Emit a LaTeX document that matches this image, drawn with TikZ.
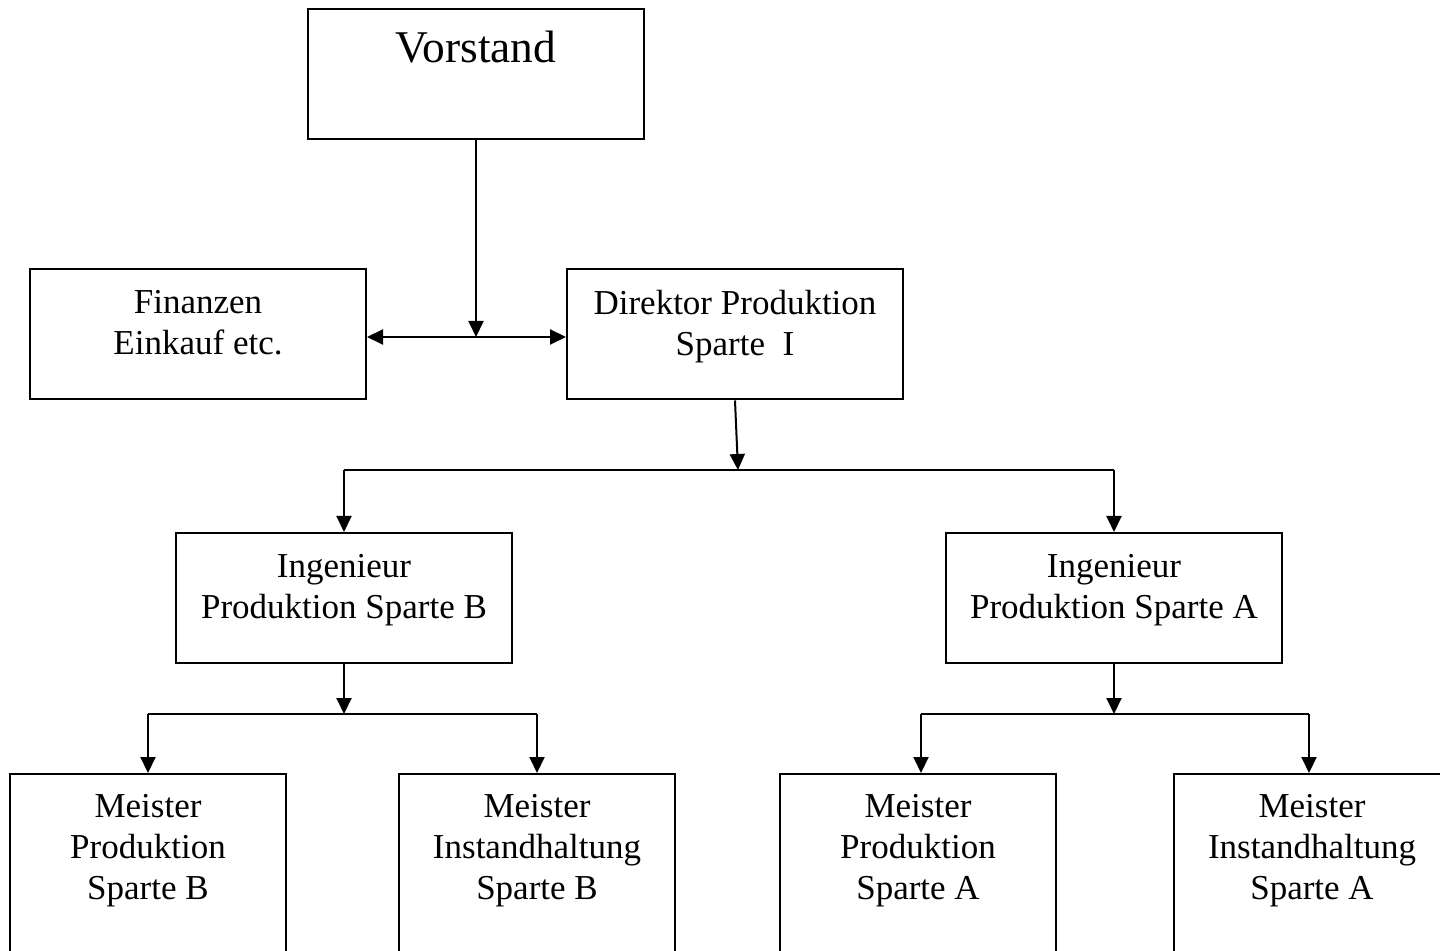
\documentclass[tikz,border=0pt]{standalone}
\usepackage{fontspec}
\setmainfont{Liberation Serif}
\usetikzlibrary{arrows.meta,positioning}
\begin{document}
\begin{tikzpicture}[x=0.5pt,y=-0.5pt,line width=1pt,
    font=\fontsize{17.5}{20.5}\selectfont,
    box/.style={draw,rectangle,inner sep=0pt,minimum width=168pt,minimum height=65pt},
    smallbox/.style={box,minimum width=138pt,minimum height=95pt},
    boxtext/.style={align=center,inner sep=0pt},
    arr/.style={-{Triangle[length=8pt,width=7.5pt]}},
    twoarr/.style={{Triangle[length=8pt,width=7.5pt]}-{Triangle[length=8pt,width=7.5pt]}}]
  \useasboundingbox (0,0) rectangle (1440,951);
  \clip (0,0) rectangle (1440,951);
  \node[box] (vorstand) at (476,74) {};
  \node[box] (fin) at (198,334.5) {};
  \node[box] (dir) at (735,334.5) {};
  \node[box] (ingb) at (344,598) {};
  \node[box] (inga) at (1114,598) {};
  \node[smallbox] (mpb) at (148,869) {};
  \node[smallbox] (mib) at (537,869) {};
  \node[smallbox] (mpa) at (918,869) {};
  \node[smallbox] (mia) at (1312,869) {};
  \node[boxtext,below=11pt of vorstand.north,font=\fontsize{22.7}{27}\selectfont] (vorstandtext) {Vorstand};
  \node[boxtext,below=10.5pt of fin.north] (fintext) {Finanzen\\Einkauf etc.};
  \node[boxtext,below=10.5pt of dir.north] (dirtext) {Direktor Produktion\\Sparte\ \ I};
  \node[boxtext,below=10.5pt of ingb.north] (ingbtext) {Ingenieur\\Produktion Sparte B};
  \node[boxtext,below=10.5pt of inga.north] (ingatext) {Ingenieur\\Produktion Sparte A};
  \node[boxtext,below=10pt of mpb.north] (mpbtext) {Meister\\Produktion\\Sparte B};
  \node[boxtext,below=10pt of mib.north] (mibtext) {Meister\\Instandhaltung\\Sparte B};
  \node[boxtext,below=10pt of mpa.north] (mpatext) {Meister\\Produktion\\Sparte A};
  \node[boxtext,below=10pt of mia.north] (miatext) {Meister\\Instandhaltung\\Sparte A};
  \coordinate (jv) at (476,337);
  \coordinate (jd) at (738,470);
  \coordinate (jb) at (344,714);
  \coordinate (ja) at (1114,714);
  \draw[arr] (vorstand) -- (jv);
  \draw[twoarr] (fin.east |- jv) -- (dir.west |- jv);
  \draw[arr] (dir.south) -- (jd);
  \draw (ingb.north |- jd) -- (inga.north |- jd);
  \draw[arr] (ingb) -- (jb);
  \draw (jb -| mpb.north) -- (jb -| mib.north);
  \draw[arr] (inga) -- (ja);
  \draw ([xshift=1.5pt]ja -| mpa.north) -- ([xshift=-1.5pt]ja -| mia.north);
  \foreach \target in {ingb,inga}
    \draw[arr] (jd -| \target.north) -- (\target.north);
  \foreach \target in {mpb,mib}
    \draw[arr] (jb -| \target.north) -- (\target.north);
  \draw[arr] ([xshift=1.5pt]ja -| mpa.north) -- ([xshift=1.5pt]mpa.north);
  \draw[arr] ([xshift=-1.5pt]ja -| mia.north) -- ([xshift=-1.5pt]mia.north);
\end{tikzpicture}
\end{document}
